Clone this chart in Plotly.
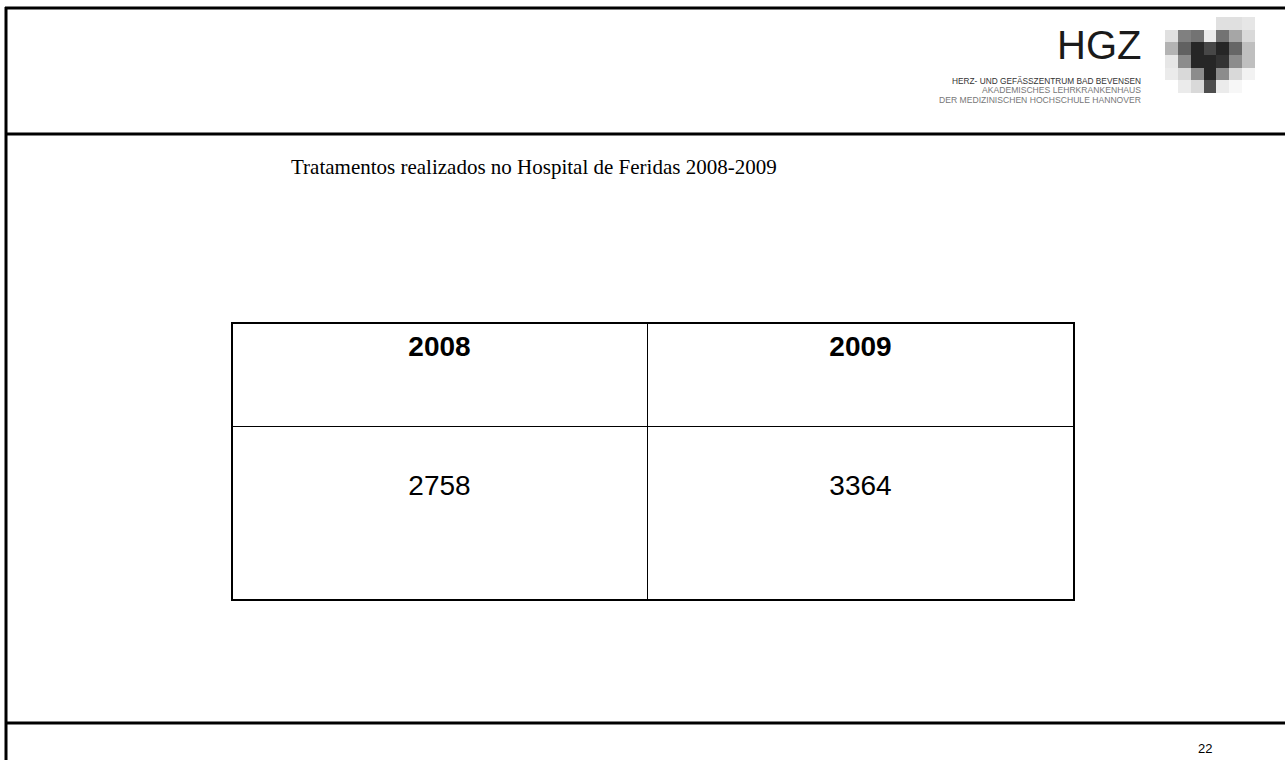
import plotly.graph_objects as go

W, H = 1285, 760

# ---- data ----
years = ["2008", "2009"]
counts = [2758, 3364]
title_text = "Tratamentos realizados no Hospital de Feridas 2008-2009"
page_number = "22"
logo_title = "HGZ"
logo_lines = ["HERZ- UND GEFÄSSZENTRUM BAD BEVENSEN",
              "AKADEMISCHES LEHRKRANKENHAUS",
              "DER MEDIZINISCHEN HOCHSCHULE HANNOVER"]
# logo pixel grid (0 = white, 1 = black), rows top -> bottom
logo_grid = [
    [0.00, 0.00, 0.00, 0.00, 0.12, 0.12, 0.10],
    [0.12, 0.50, 0.55, 0.08, 0.55, 0.35, 0.15],
    [0.30, 0.62, 0.85, 0.72, 0.85, 0.60, 0.25],
    [0.10, 0.45, 0.85, 0.85, 0.80, 0.45, 0.25],
    [0.08, 0.15, 0.45, 0.85, 0.45, 0.15, 0.05],
    [0.00, 0.08, 0.15, 0.70, 0.08, 0.03, 0.00],
]


def px(x):
    return x / W


def py(y):
    return 1 - y / H


fig = go.Figure()

# table
fig.add_trace(go.Table(
    domain=dict(x=[px(232), px(1074)], y=[py(600), py(323)]),
    columnwidth=[415, 427],
    header=dict(
        values=[f"<b>{y}</b>" for y in years],
        height=103,
        align="center",
        fill_color="white",
        line=dict(color="black", width=1),
        font=dict(family="Liberation Sans, Arial", size=28, color="black"),
    ),
    cells=dict(
        values=[[f"\u00a0<br>{c}"] for c in counts],
        height=174,
        align="center",
        fill_color="white",
        line=dict(color="black", width=1),
        font=dict(family="Liberation Sans, Arial", size=28, color="black"),
    ),
))

# logo
fig.add_trace(go.Heatmap(
    z=logo_grid,
    colorscale=[[0, "white"], [1, "black"]],
    zmin=0, zmax=1,
    showscale=False,
    hoverinfo="skip",
    xaxis="x", yaxis="y",
))

shapes = []
line_col = "black"
shapes.append(dict(type="line", xref="paper", yref="paper", x0=px(5), x1=1, y0=py(8), y1=py(8),
                   line=dict(color=line_col, width=3)))
shapes.append(dict(type="line", xref="paper", yref="paper", x0=px(5), x1=1, y0=py(134), y1=py(134),
                   line=dict(color=line_col, width=3)))
shapes.append(dict(type="line", xref="paper", yref="paper", x0=px(5), x1=1, y0=py(723), y1=py(723),
                   line=dict(color=line_col, width=3)))
shapes.append(dict(type="line", xref="paper", yref="paper", x0=px(6), x1=px(6), y0=py(7), y1=0,
                   line=dict(color=line_col, width=3)))
shapes.append(dict(type="rect", xref="paper", yref="paper", x0=px(232), x1=px(1074), y0=py(600), y1=py(323),
                   line=dict(color="black", width=2)))

annotations = []
annotations.append(dict(text=title_text, x=px(534), y=py(167), xref="paper", yref="paper",
                        xanchor="center", yanchor="middle", showarrow=False,
                        font=dict(family="Liberation Serif, Times New Roman", size=21, color="black")))
annotations.append(dict(text=logo_title, x=px(1143), y=py(45), xref="paper", yref="paper",
                        xanchor="right", yanchor="middle", showarrow=False,
                        font=dict(family="Liberation Sans, Arial", size=40, color="#1a1a1a")))
line_y = [81, 90, 100]
line_col_txt = ["#333333", "#777777", "#777777"]
line_size = [8.3, 8.6, 8.6]
for t, yy, cc, ss in zip(logo_lines, line_y, line_col_txt, line_size):
    annotations.append(dict(text=t, x=px(1143), y=py(yy), xref="paper", yref="paper",
                            xanchor="right", yanchor="middle", showarrow=False,
                            font=dict(family="Liberation Sans, Arial", size=ss, color=cc)))
annotations.append(dict(text=page_number, x=px(1205), y=py(748), xref="paper", yref="paper",
                        xanchor="center", yanchor="middle", showarrow=False,
                        font=dict(family="Liberation Sans, Arial", size=13, color="black")))

fig.update_layout(
    width=W, height=H,
    margin=dict(l=0, r=0, t=0, b=0),
    paper_bgcolor="white",
    plot_bgcolor="white",
    showlegend=False,
    shapes=shapes,
    annotations=annotations,
    xaxis=dict(domain=[px(1165), px(1255)], visible=False, range=[-0.5, 6.5], fixedrange=True),
    yaxis=dict(domain=[py(93), py(17)], visible=False, range=[5.5, -0.5], fixedrange=True),
)

fig.write_html("out.html",
               config={"displayModeBar": False},
               post_script="document.body.style.margin='0px';document.body.style.overflow='hidden';")
